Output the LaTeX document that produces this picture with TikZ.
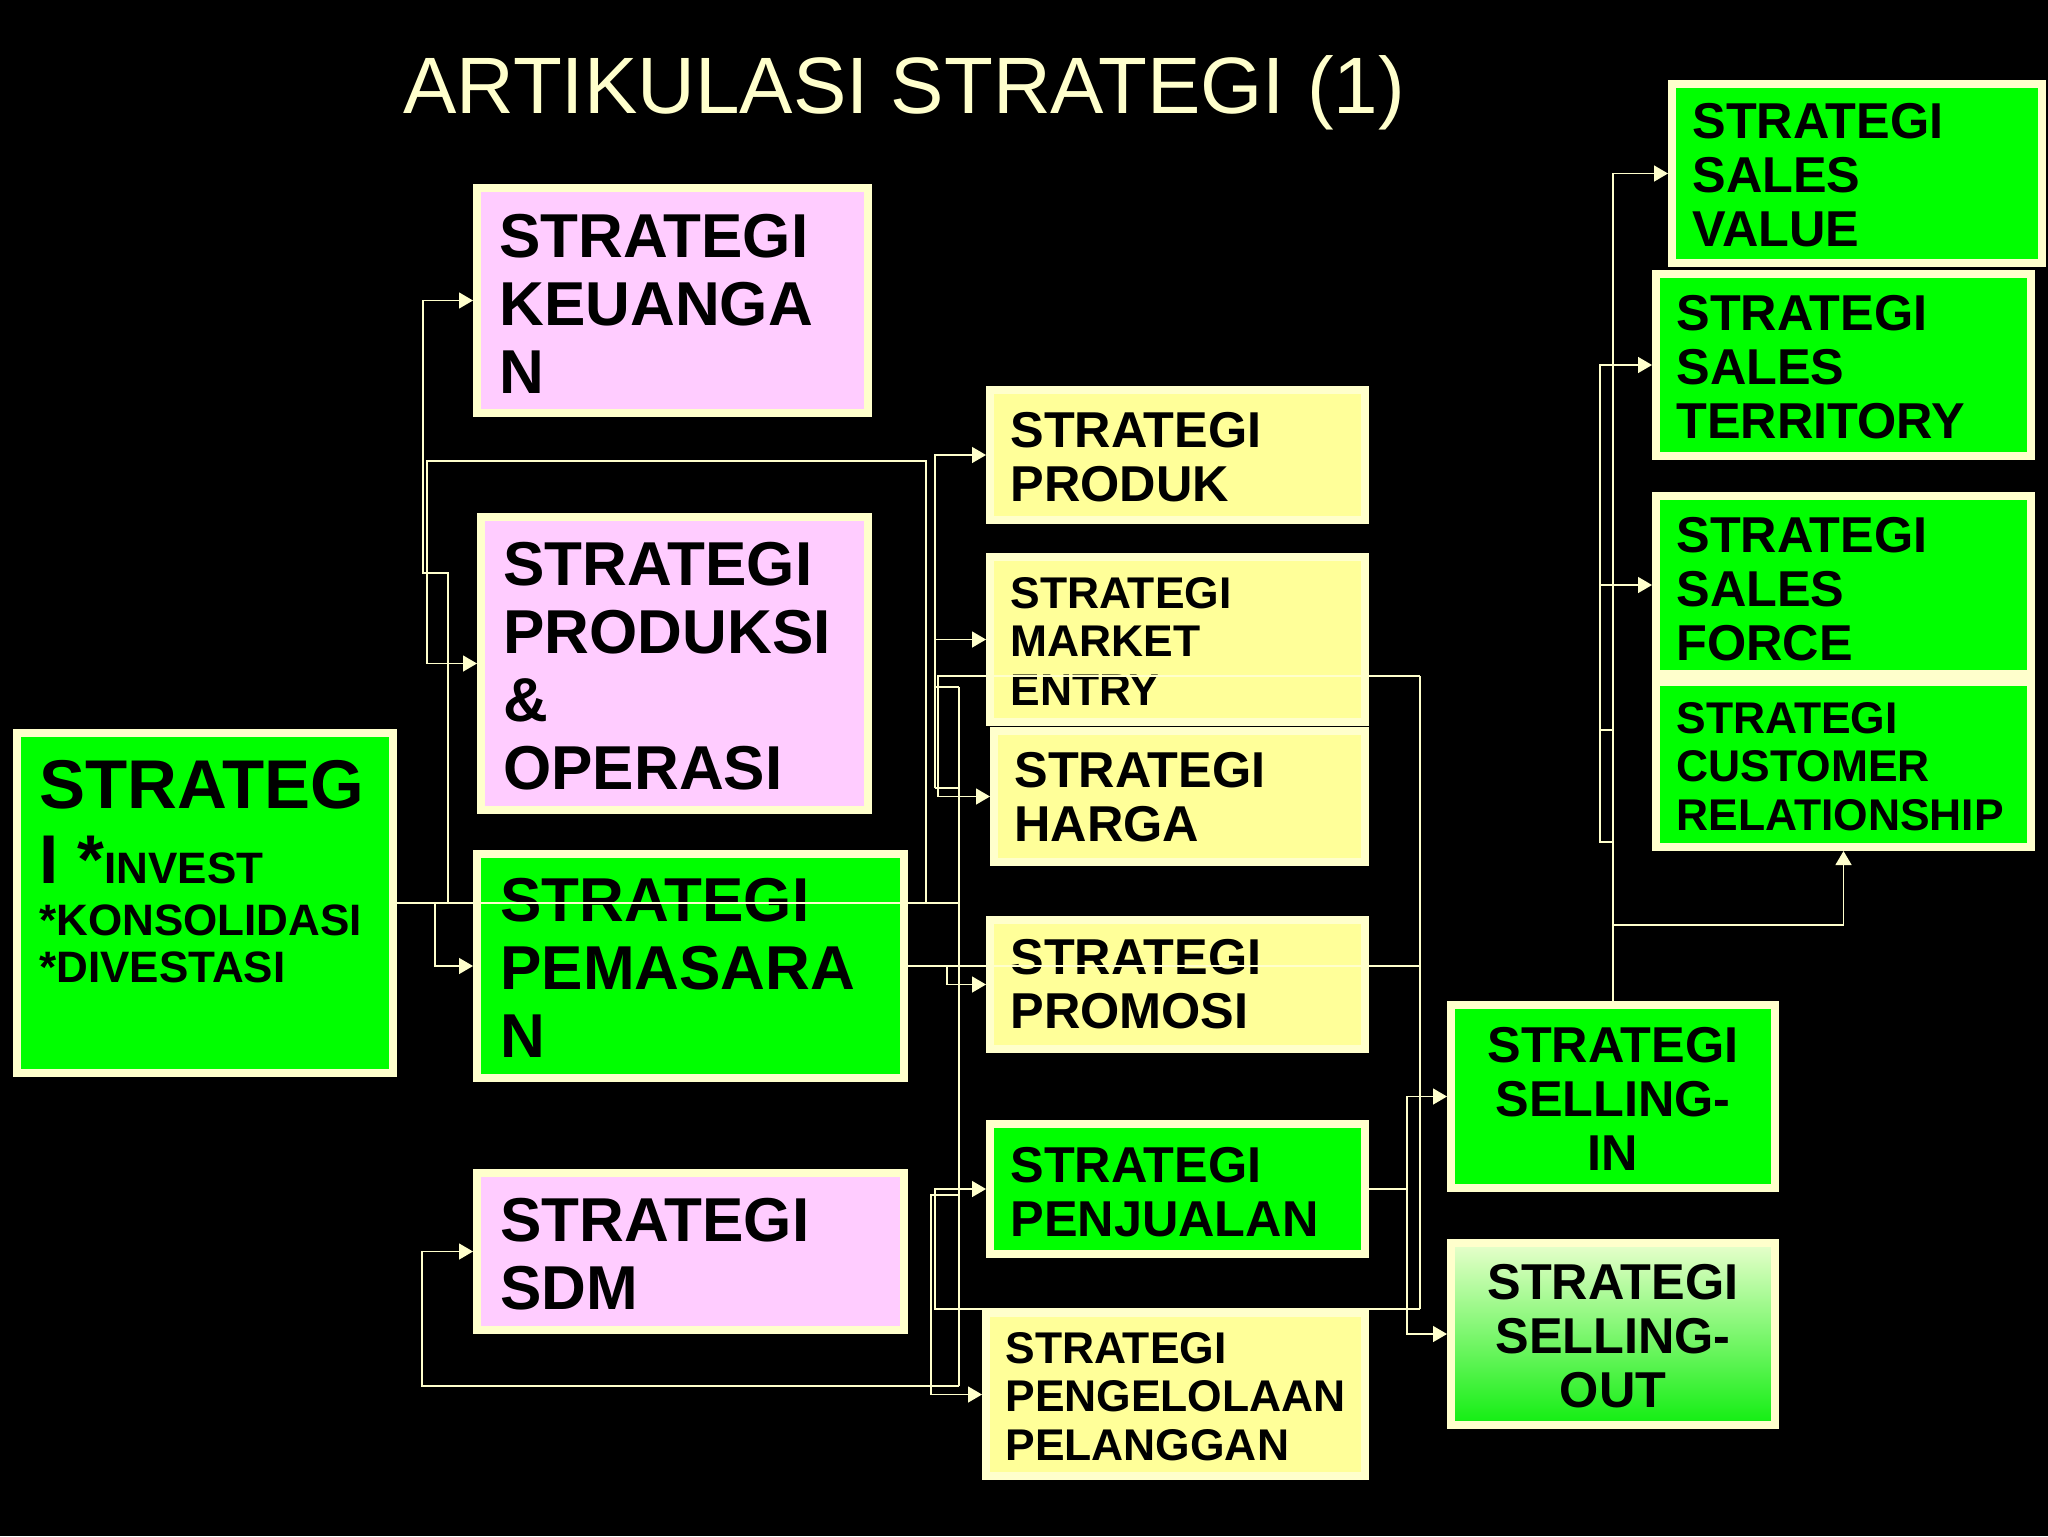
\documentclass[tikz,border=0pt]{standalone}
\usepackage{fontspec}
\setmainfont{Liberation Sans}
\usetikzlibrary{arrows.meta}
\definecolor{cream}{HTML}{FFFFCC}
\definecolor{gfill}{HTML}{00FF00}
\definecolor{pfill}{HTML}{FFCCFF}
\definecolor{yfill}{HTML}{FFFF99}
\definecolor{soTop}{HTML}{E8FFCC}
\definecolor{soMid}{HTML}{66FF55}
\definecolor{soBot}{HTML}{11EE11}
\newcommand{\Lst}[1]{\vtop{\halign{##\hfil\cr#1\crcr}}}
\newcommand{\Cst}[1]{\vtop{\halign{\hfil##\hfil\cr#1\crcr}}}
\tikzset{
  bx/.style={draw=cream, line width=4pt, inner sep=0pt},
  tx/.style={anchor=base west, inner sep=0pt, text=black},
  txc/.style={anchor=base, inner sep=0pt, text=black},
  fbig/.style={font=\fontsize{31}{34}\bfseries\selectfont},
  fmid/.style={font=\fontsize{25.2}{27}\bfseries\selectfont},
  fsml/.style={font=\fontsize{22.2}{24.3}\bfseries\selectfont},
  cn/.style={draw=cream, line width=0.7pt},
  arr/.style={cn, -{Triangle[length=7pt,width=8pt]}}
}
\begin{document}
\begin{tikzpicture}[x=0.5pt,y=-0.5pt]
\fill[black] (0,0) rectangle (2048,1536);
\useasboundingbox (0,0) rectangle (2048,1536);

% title
\node[anchor=base west, inner sep=0pt, text=cream, font=\fontsize{40}{42}\selectfont] (title) at (403,113) {ARTIKULASI STRATEGI (1)};

% boxes
\node[bx, fill=gfill, minimum width=188pt, minimum height=170pt] (main) at (205,903) {};
\node[bx, fill=pfill, minimum width=195.5pt, minimum height=112.5pt] (keu) at (672.5,300.5) {};
\node[bx, fill=pfill, minimum width=193.5pt, minimum height=146.5pt] (prod) at (674.5,663.5) {};
\node[bx, fill=gfill, minimum width=213.5pt, minimum height=112pt] (pem) at (690.5,966) {};
\node[bx, fill=pfill, minimum width=213.5pt, minimum height=78.5pt] (sdm) at (690.5,1251.5) {};
\node[bx, fill=yfill, minimum width=187.5pt, minimum height=65pt] (produk) at (1177.5,455) {};
\node[bx, fill=yfill, minimum width=187.5pt, minimum height=82.5pt] (market) at (1177.5,639.5) {};
\node[bx, fill=yfill, minimum width=185.5pt, minimum height=65.5pt] (harga) at (1179.5,796.5) {};
\node[bx, fill=yfill, minimum width=187.5pt, minimum height=64.5pt] (promosi) at (1177.5,984.5) {};
\node[bx, fill=gfill, minimum width=187.5pt, minimum height=65pt] (penj) at (1177.5,1189) {};
\node[bx, fill=yfill, minimum width=189.5pt, minimum height=81.5pt] (pengel) at (1175.5,1394.5) {};
\node[bx, fill=gfill, minimum width=162pt, minimum height=91.5pt] (sin) at (1613,1096.5) {};
\node[bx, top color=soTop, middle color=soMid, bottom color=soBot, minimum width=162pt, minimum height=91pt] (sout) at (1613,1334) {};
\node[bx, fill=gfill, minimum width=185pt, minimum height=89.5pt] (sval) at (1857,173.5) {};
\node[bx, fill=gfill, minimum width=187.5pt, minimum height=91pt] (sterr) at (1843.5,365) {};
\node[bx, fill=gfill, minimum width=187.5pt, minimum height=89pt] (sforce) at (1843.5,585) {};
\node[bx, fill=gfill, minimum width=187.5pt, minimum height=82.5pt] (cust) at (1843.5,764.5) {};

% texts
\node[tx, font=\fontsize{34.5}{36}\bfseries\selectfont] (mainA) at (39,808) {STRATEG};
\node[tx, font=\fontsize{22}{24}\bfseries\selectfont] (mainB) at (39,883) {{\fontsize{34.5}{36}\selectfont I *}INVEST};
\node[tx, font=\fontsize{22}{24}\bfseries\selectfont] (mainC) at (39,935) {*KONSOLIDASI};
\node[tx, font=\fontsize{22}{24}\bfseries\selectfont] (mainD) at (39,982) {*DIVESTASI};

\node[tx, fbig] (keuT) at (499,257) {\Lst{STRATEGI\cr KEUANGA\cr N}};
\node[tx, fbig] (prodT) at (503,585) {\Lst{STRATEGI\cr PRODUKSI\cr \&\cr OPERASI}};
\node[tx, fbig] (pemT) at (500,921.5) {\Lst{STRATEGI\cr PEMASARA\cr N}};
\node[tx, fbig] (sdmT) at (500,1241) {\Lst{STRATEGI\cr SDM}};

\node[tx, fmid] (produkT) at (1010,447) {\Lst{STRATEGI\cr PRODUK}};
\node[tx, fsml] (marketT) at (1010,608) {\Lst{STRATEGI\cr MARKET\cr ENTRY}};
\node[tx, fmid] (hargaT) at (1014,787.5) {\Lst{STRATEGI\cr HARGA}};
\node[tx, fmid] (promosiT) at (1010,974) {\Lst{STRATEGI\cr PROMOSI}};
\node[tx, fmid] (penjT) at (1010,1182) {\Lst{STRATEGI\cr PENJUALAN}};
\node[tx, fsml] (pengelT) at (1005,1363) {\Lst{STRATEGI\cr PENGELOLAAN\cr PELANGGAN}};

\node[txc, fmid] (sinT) at (1613,1062) {\Cst{STRATEGI\cr SELLING-\cr IN}};
\node[txc, fmid] (soutT) at (1613,1299) {\Cst{STRATEGI\cr SELLING-\cr OUT}};

\node[tx, fmid] (svalT) at (1692,139) {\Lst{STRATEGI\cr SALES\cr VALUE}};
\node[tx, fmid] (sterrT) at (1676,330) {\Lst{STRATEGI\cr SALES\cr TERRITORY}};
\node[tx, fmid] (sforceT) at (1676,552) {\Lst{STRATEGI\cr SALES\cr FORCE}};
\node[tx, fsml] (custT) at (1676,733) {\Lst{STRATEGI\cr CUSTOMER\cr RELATIONSHIP}};

% junction coordinates
\coordinate (j1) at (448,903);
\coordinate (j2) at (926,903);
\coordinate (j3) at (435,903);
\coordinate (t1) at (959,903);
\coordinate (ttop) at (959,687);
\coordinate (tbot) at (959,1386);
\coordinate (tsq) at (959,788);
\coordinate (jp) at (935,788);
\coordinate (r1) at (1420,676);
\coordinate (r2) at (1420,1309);
\coordinate (rp) at (1420,966);
\coordinate (jpr) at (947,966);
\coordinate (j9) at (959,1195);
\coordinate (js) at (1407,1189);
\coordinate (jc) at (1613,925);
\coordinate (jt1) at (1613,730);
\coordinate (jt2) at (1613,842);
\coordinate (jt) at (1600,730);

% connectors
\draw[cn] (main.east) -- (t1);
\draw[arr] (j1) -- (448,573) -- (423,573) |- (keu.west);
\draw[arr] (j2) -- (926,461) -- (427,461) |- (prod.west);
\draw[arr] (j3) |- (pem.west);
\draw[cn] (ttop) -- (tbot);
\draw[arr] (tbot) -- (422,1386) |- (sdm.west);
\draw[cn] (ttop) -- (935,687);
\draw[cn] (tsq) -- (jp);
\draw[arr] (jp) |- (produk.west);
\draw[arr] (jp) |- (market.west);
\draw[cn] (r1) -- (r2);
\draw[arr] (r1) -- (938,676) |- (harga.west);
\draw[cn] (pem.east) -- (rp);
\draw[arr] (jpr) |- (promosi.west);
\draw[arr] (r2) -- (935,1309) |- (penj.west);
\draw[arr] (j9) -- (931,1195) |- (pengel.west);
\draw[cn] (penj.east) -- (js);
\draw[arr] (js) |- (sin.west);
\draw[arr] (js) |- (sout.west);
\draw[arr] (sin.north) |- (sval.west);
\draw[arr] (jc) -| (cust.south);
\draw[cn] (jt1) -- (jt) -- (1600,842) -- (jt2);
\draw[arr] (jt) |- (sterr.west);
\draw[arr] (jt) |- (sforce.west);
\end{tikzpicture}
\end{document}
